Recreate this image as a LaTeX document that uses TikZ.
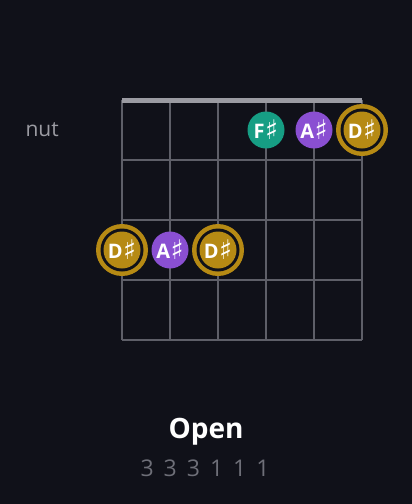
\documentclass[tikz,border=0pt]{standalone}
\usepackage{fontspec}
\setmainfont{Open Sans}
\newfontfamily\symf{DejaVu Sans}
\definecolor{bg}{HTML}{101119}
\definecolor{gridc}{HTML}{5E5F68}
\definecolor{nutc}{HTML}{9B9BA2}
\definecolor{teal}{HTML}{169E84}
\definecolor{purp}{HTML}{8A4FD2}
\definecolor{gold}{HTML}{B68A14}
\definecolor{fretnum}{HTML}{6E6F78}
\newcommand{\shp}{\hspace{0.5pt}\raisebox{-1.5pt}{\symf\fontsize{27}{27}\selectfont\mdseries ♯}}
\tikzset{
  x=1pt,y=-1pt,
  gridline/.style={draw=gridc,line width=1.1pt},
  notedot/.style={circle,minimum size=37pt,inner sep=0pt,text=white,font=\fontsize{20}{20}\selectfont\bfseries},
  lbl/.style={text=nutc,font=\fontsize{21}{21}\selectfont}
}
\begin{document}
\begin{tikzpicture}
\fill[bg] (0,0) rectangle (412,504);
\useasboundingbox (0,0) rectangle (412,504);
% grid
\foreach \x in {122,170,218,266,314,362}{\draw[gridline] (\x,100) -- (\x,340);}
\foreach \y in {160,220,280,340}{\draw[gridline] (122,\y) -- (362,\y);}
\draw[nutc,line width=5pt] (122,100.5) -- (362,100.5);
\node[lbl,anchor=west] (nut) at (22,130) {nut};
% row 1
\node[notedot,fill=teal] (f1) at (266,130) {F\shp};
\node[notedot,fill=purp] (a1) at (314,130) {A\shp};
\foreach \n/\x/\y in {d1/362/130,d2/122/250,d3/218/250}{
  \fill[gold] (\x,\y) circle (26);
  \fill[bg] (\x,\y) circle (21.5);
  \node[notedot,fill=gold] (\n) at (\x,\y) {D\shp};
}
\node[notedot,fill=purp] (a2) at (170,250) {A\shp};
\node[text=white,font=\fontsize{28}{28}\selectfont\bfseries] (title) at (206,432) {Open};
\node[text=fretnum,font=\fontsize{23}{23}\selectfont] (frets) at (205,468) {3\hspace{10pt}3\hspace{10pt}3\hspace{10pt}1\hspace{10pt}1\hspace{10pt}1};
\end{tikzpicture}
\end{document}
